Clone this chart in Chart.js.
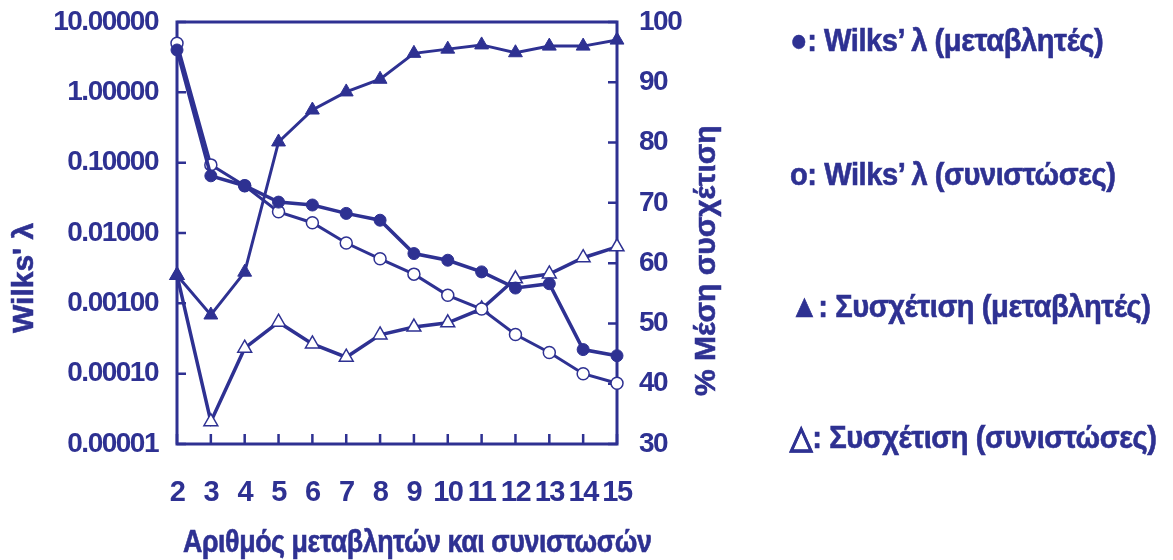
<!DOCTYPE html>
<html>
<head>
<meta charset="utf-8">
<script src="https://cdn.jsdelivr.net/npm/chart.js@4.4.1/dist/chart.umd.min.js"></script>
<style>
    body { margin: 0; background: #fff; }
    #wrap { position: relative; width: 1173px; height: 560px; overflow: hidden; }
    #c { position: absolute; left: 0; top: 0; }
    .lbl {
        position: absolute;
        color: #2e3192;
        font-family: 'Liberation Sans', Arial, sans-serif;
        font-weight: bold;
        white-space: nowrap;
        line-height: 1;
        -webkit-text-stroke: 0.6px #2e3192;
    }
    .rot { transform-origin: 0 0; transform: rotate(-90deg); }
    .sq { transform-origin: 0 0; transform: scaleX(0.91); letter-spacing: -0.5px; }
</style>
</head>
<body>
<div id="wrap">
    <canvas id="c" width="1173" height="560"></canvas>
    <div class="lbl rot" id="yTitle" style="left:8px; top:333px; font-size:30px;">Wilks' λ</div>
    <div class="lbl rot" id="y1Title" style="left:690px; top:396px; font-size:30px;">% Μέση συσχέτιση</div>
    <div class="lbl sq" id="xTitle" style="left:183px; top:526px; font-size:31px; transform: scaleX(0.865);">Αριθμός μεταβλητών και συνιστωσών</div>
    <div class="lbl sq" style="left:790px; top:24px; font-size:32px;">●: Wilks’ λ (μεταβλητές)</div>
    <div class="lbl sq" style="left:790px; top:158px; font-size:32px;">ο: Wilks’ λ (συνιστώσες)</div>
    <div class="lbl sq" style="left:790px; top:290px; font-size:32px;">▲: Συσχέτιση (μεταβλητές)</div>
    <div class="lbl sq" style="left:790px; top:421px; font-size:32px;">△: Συσχέτιση (συνιστώσες)</div>
</div>
<script>
// number of variables / components
const xValues = [2, 3, 4, 5, 6, 7, 8, 9, 10, 11, 12, 13, 14, 15];

// Wilks' lambda (left, log axis)
const wilksVars  = [4.0, 0.065, 0.047, 0.0275, 0.025, 0.019, 0.0152, 0.0051, 0.0041, 0.0028, 0.00165, 0.0019, 0.00022, 0.00018];
const wilksComps = [5.0, 0.093, 0.047, 0.020, 0.014, 0.0072, 0.0043, 0.0026, 0.0013, 0.00083, 0.00036, 0.0002, 0.0001, 0.000073];

// mean correlation % (right axis)
const corrVars  = [58.0, 51.4, 58.5, 80.1, 85.4, 88.4, 90.5, 94.8, 95.5, 96.2, 94.9, 96.0, 96.0, 97.0];
const corrComps = [58.0, 33.7, 45.9, 50.2, 46.6, 44.4, 48.1, 49.4, 50.1, 52.4, 57.4, 58.2, 60.9, 62.7];

const logTicks = [10, 1, 0.1, 0.01, 0.001, 0.0001, 0.00001];

const blue = '#2e3192';
const tickFont = { family: "'Liberation Sans', Arial, sans-serif", weight: 'bold', size: 28 };

const toPoints = (vals) => vals.map((v, i) => ({ x: xValues[i], y: v }));

// tighter text, the original lettering is squeezed
const spacingPlugin = {
    id: 'spacing',
    beforeInit(chart) { chart.ctx.letterSpacing = '-1.5px'; },
    beforeDraw(chart) { chart.ctx.letterSpacing = '-1.5px'; }
};

// frame + inward tick marks, drawn from the scales
const framePlugin = {
    id: 'frame',
    beforeDatasetsDraw(chart) {
        const { ctx, chartArea: a, scales } = chart;
        ctx.save();
        ctx.strokeStyle = blue;
        ctx.lineWidth = 3;
        ctx.strokeRect(a.left, a.top, a.right - a.left, a.bottom - a.top);
        ctx.lineWidth = 2.5;
        ctx.beginPath();
        scales.y.ticks.forEach(t => {
            const p = scales.y.getPixelForValue(t.value);
            ctx.moveTo(a.left, p); ctx.lineTo(a.left + 9, p);
        });
        scales.y1.ticks.forEach(t => {
            const p = scales.y1.getPixelForValue(t.value);
            ctx.moveTo(a.right, p); ctx.lineTo(a.right - 9, p);
        });
        scales.x.ticks.forEach(t => {
            const p = scales.x.getPixelForValue(t.value);
            ctx.moveTo(p, a.bottom); ctx.lineTo(p, a.bottom - 10);
        });
        ctx.stroke();
        ctx.restore();
    }
};

// vertical axes: no extra room for half a label at the ends
const noEndPadding = (s) => { s.paddingTop = 0; s.paddingBottom = 0; };

new Chart(document.getElementById('c'), {
    type: 'line',
    data: {
        datasets: [
            {
                label: 'Wilks λ (μεταβλητές)',
                data: toPoints(wilksVars),
                yAxisID: 'y',
                borderColor: blue, backgroundColor: blue,
                borderWidth: 3.5, pointRadius: 6, pointStyle: 'circle',
                pointBorderWidth: 1, clip: false
            },
            {
                label: 'Wilks λ (συνιστώσες)',
                data: toPoints(wilksComps),
                yAxisID: 'y',
                borderColor: blue, backgroundColor: '#fff', pointBackgroundColor: '#fff',
                borderWidth: 3, pointRadius: 6, pointStyle: 'circle',
                pointBorderWidth: 1.5, clip: false
            },
            {
                label: 'Συσχέτιση (μεταβλητές)',
                data: toPoints(corrVars),
                yAxisID: 'y1',
                borderColor: blue, backgroundColor: blue,
                borderWidth: 3, pointRadius: 8, pointStyle: 'triangle',
                pointBorderWidth: 1, clip: false
            },
            {
                label: 'Συσχέτιση (συνιστώσες)',
                data: toPoints(corrComps),
                yAxisID: 'y1',
                borderColor: blue, backgroundColor: '#fff', pointBackgroundColor: '#fff',
                borderWidth: 3.5, pointRadius: 8, pointStyle: 'triangle',
                pointBorderWidth: 1.5, clip: false
            }
        ]
    },
    options: {
        responsive: false,
        animation: false,
        devicePixelRatio: 1,
        layout: { padding: { left: 0, right: 476, top: 22, bottom: 56 } },
        plugins: { legend: { display: false }, tooltip: { enabled: false } },
        elements: { line: { tension: 0 } },
        scales: {
            x: {
                type: 'linear',
                min: 2, max: 15,
                grid: { display: false },
                border: { display: false },
                ticks: { stepSize: 1, autoSkip: false, color: blue, font: { ...tickFont, size: 29 }, padding: 24, maxRotation: 0 },
                afterFit: (s) => { s.height = 60; s.paddingLeft = 0; s.paddingRight = 0; }
            },
            y: {
                type: 'logarithmic',
                position: 'left',
                min: 0.00001, max: 10,
                grid: { display: false },
                border: { display: false },
                afterBuildTicks: (s) => { s.ticks = logTicks.map(v => ({ value: v })); },
                ticks: { color: blue, font: tickFont, padding: 11, callback: (v) => Number(v).toFixed(5) },
                afterFit: (s) => { s.width = 177; noEndPadding(s); }
            },
            y1: {
                type: 'linear',
                position: 'right',
                min: 30, max: 100,
                grid: { display: false },
                border: { display: false },
                ticks: { stepSize: 10, color: blue, font: tickFont, padding: 14 },
                afterFit: (s) => { s.width = 80; noEndPadding(s); }
            }
        }
    },
    plugins: [spacingPlugin, framePlugin]
});
</script>
</body>
</html>
